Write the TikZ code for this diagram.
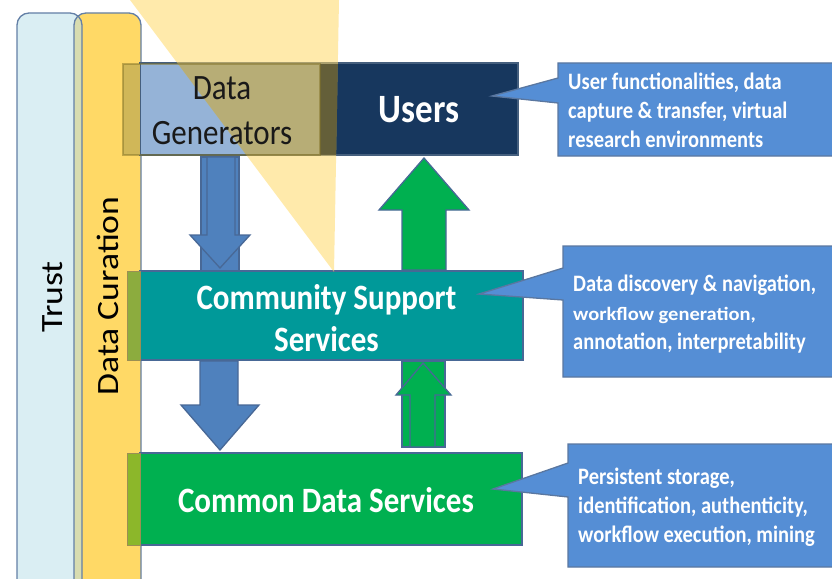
\documentclass[tikz,border=0pt]{standalone}
\usepackage{fontspec}
\setmainfont{Carlito}
\usepackage{graphicx}

\definecolor{trustblau}{RGB}{218,238,243}
\definecolor{kuragelb}{RGB}{255,217,102}
\definecolor{mischung}{RGB}{216,220,176}
\definecolor{rand}{RGB}{72,104,150}
\definecolor{navy}{RGB}{23,55,94}
\definecolor{hellblau}{RGB}{149,179,215}
\definecolor{petrol}{RGB}{0,153,153}
\definecolor{gruen}{RGB}{0,176,80}
\definecolor{pfeilblau}{RGB}{79,129,189}
\definecolor{blasenblau}{RGB}{85,142,213}
\definecolor{oliv}{RGB}{130,115,40}
\definecolor{dunkeloliv}{RGB}{80,75,40}
\definecolor{khaki}{RGB}{208,183,88}
\definecolor{streifenpetrol}{RGB}{140,172,62}
\definecolor{streifengruen}{RGB}{140,183,42}

\begin{document}
\begin{tikzpicture}[x=1pt,y=-1pt,
  linie/.style={draw=rand,line width=1.3pt},
  spalte/.style={linie,rounded corners=12pt},
  weiss/.style={inner sep=0pt,text=white,font=\bfseries\fontsize{31}{36}\selectfont,yscale=1.15,align=center},
  schwarz/.style={inner sep=0pt,font=\fontsize{31}{39}\selectfont,yscale=1.15,align=center},
  blasentext/.style={inner sep=0pt,text=white,font=\bfseries\fontsize{20.5}{25}\selectfont,yscale=1.15,align=left,anchor=west}]
\useasboundingbox (0,0) rectangle (832,578);

% Koordinaten
\coordinate (userstip) at (492,96);
\coordinate (csstip) at (479,294);
\coordinate (cdstip) at (493,489);

% Spalten
\fill[trustblau] (17,13) [rounded corners=12pt] rectangle (82,592);
\fill[kuragelb] (74,13) [rounded corners=12pt] rectangle (141,592);
\begin{scope}
\clip[rounded corners=12pt] (74,13) rectangle (141,592);
\fill[mischung,rounded corners=12pt] (17,13) rectangle (82,592);
\end{scope}
\draw[spalte,draw=rand!85] (17,13) rectangle (82,592);
\draw[spalte,draw=rand!85] (74,13) rectangle (141,592);

% Boxen
\fill[navy] (140,63) rectangle (518,155);
\fill[hellblau] (140,64) rectangle (320,155);
\draw[linie,draw=navy!80] (140,63) rectangle (518,155);
\fill[khaki] (123,64) rectangle (140,155);

\draw[linie,fill=petrol] (140,271) rectangle (523,360);
\draw[line width=1pt,draw=oliv!80,fill=streifenpetrol] (127,271) rectangle (140,360);
\draw[linie,fill=gruen] (140,453) rectangle (522,545);
\draw[line width=1pt,draw=oliv!80,fill=streifengruen] (127,453) rectangle (140,545);

% Pfeile
\draw[linie,fill=pfeilblau] (201,157) rectangle (239,271);
\draw[linie,fill=pfeilblau] (207,157) -- (235,157) -- (235,235) -- (250,235) -- (220,268) -- (190,235) -- (207,235) -- cycle;
\draw[linie,fill=pfeilblau] (200,361) -- (238,361) -- (238,405) -- (259,405) -- (220,450) -- (181,405) -- (200,405) -- cycle;
\draw[linie,fill=gruen] (402,270) -- (446,270) -- (446,210) -- (469,210) -- (424,158) -- (379,210) -- (402,210) -- cycle;
\draw[linie,fill=gruen] (402,361) rectangle (445,447);
\draw[linie,fill=gruen] (410,447) -- (435,447) -- (435,395) -- (451,395) -- (423,363) -- (396,395) -- (410,395) -- cycle;

% Dreieck
\fill[kuragelb,opacity=0.55] (130,0) -- (339,0) -- (334,272) -- cycle;
\begin{scope}
\clip (130,0) -- (339,0) -- (334,272) -- cycle;
\fill[oliv,opacity=0.3] (140,64) rectangle (320,155);
\fill[dunkeloliv,opacity=0.7] (320,64) rectangle (340,155);
\end{scope}
\draw[line width=1.2pt,draw=oliv,opacity=0.5] (123,64) rectangle (320,155);

% Beschriftung
\node[weiss,anchor=base,font=\bfseries\fontsize{35}{40}\selectfont] (users) at (419,122) {Users};
\node[schwarz,text=black!90] (datagen) at (222,110.5) {Data\\Generators};
\node[weiss] (css) at (326.5,318) {Community Support\\Services};
\node[weiss,anchor=base] (cds) at (326,512) {Common Data Services};
\node[schwarz,rotate=90] (trust) at (53,297) {Trust};
\node[schwarz,rotate=90] (curation) at (108,296) {Data Curation};

% Sprechblasen
\draw[linie,draw=rand!90,fill=blasenblau] (558,63) -- (845,63) -- (845,156) -- (558,156) -- (558,103) -- (userstip) -- (558,78) -- cycle;
\draw[linie,draw=rand!90,fill=blasenblau] (563,246) -- (845,246) -- (845,377) -- (563,377) -- (563,300) -- (csstip) -- (563,268) -- cycle;
\draw[linie,draw=rand!90,fill=blasenblau] (568,444) -- (845,444) -- (845,567) -- (568,567) -- (568,497) -- (cdstip) -- (568,463) -- cycle;
\node[blasentext] (usersinfo) at (568,110.5) {User functionalities, data\\capture \& transfer, virtual\\research environments};
\node[blasentext] (cssinfo) at (573,314) {Data discovery \& navigation,\\\scalebox{1}[0.8]{workflow generation,}\\annotation, interpretability};
\node[blasentext] (cdsinfo) at (578,507) {Persistent storage,\\identification, authenticity,\\workflow execution, mining};
\end{tikzpicture}
\end{document}
